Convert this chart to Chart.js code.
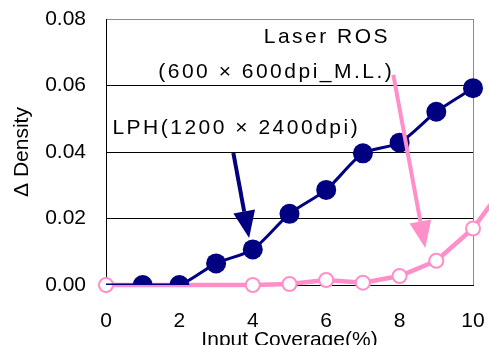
<!DOCTYPE html>
<html>
<head>
<meta charset="utf-8">
<script src="https://cdn.jsdelivr.net/npm/chart.js@4.4.0/dist/chart.umd.min.js"></script>
<style>
  html, body { margin: 0; padding: 0; background: #fff; }
  #wrap { width: 489px; height: 345px; }
</style>
</head>
<body>
<div id="wrap"><canvas id="myChart" width="489" height="345"></canvas></div>
<script>
// LPH(1200x2400dpi) series
const lphX = [0, 1, 2, 3, 4, 5, 6, 7, 8, 9, 10];
const lphY = [0, 0, 0, 0.0065, 0.0107, 0.0214, 0.0286, 0.0396, 0.0428, 0.0521, 0.0592];

// Laser ROS series (last point runs off the right edge)
const rosX = [0, 4, 5, 6, 7, 8, 9, 10, 11];
const rosY = [0, 0, 0.0003, 0.0015, 0.0007, 0.0027, 0.0073, 0.017, 0.032];

// annotation labels and arrows, in data units
const noteLabels = [
  { text: "Laser ROS", x: 6.02, y: 0.0746 },
  { text: "(600 × 600dpi_M.L.)", x: 4.64, y: 0.0641 },
  { text: "LPH(1200 × 2400dpi)", x: 3.55, y: 0.0472 }
];
const noteArrows = [
  { x0: 3.47, y0: 0.0397, x1: 3.90, y1: 0.0141, color: "#000080" },
  { x0: 7.83, y0: 0.0632, x1: 8.70, y1: 0.0111, color: "#ff8fc8" }
];

const FONT = '"Liberation Sans", Arial, sans-serif';
Chart.defaults.font.family = FONT;
Chart.defaults.color = "#000";

function drawArrow(ctx, sx, sy, ex, ey, color) {
  const ang = Math.atan2(ey - sy, ex - sx);
  const len = 27, half = 11;
  const bx = ex - Math.cos(ang) * len;
  const by = ey - Math.sin(ang) * len;
  ctx.strokeStyle = color;
  ctx.fillStyle = color;
  ctx.lineWidth = 4;
  ctx.beginPath();
  ctx.moveTo(sx, sy);
  ctx.lineTo(bx, by);
  ctx.stroke();
  ctx.beginPath();
  ctx.moveTo(ex, ey);
  ctx.lineTo(bx + Math.sin(ang) * half, by - Math.cos(ang) * half);
  ctx.lineTo(bx - Math.sin(ang) * half, by + Math.cos(ang) * half);
  ctx.closePath();
  ctx.fill();
}

const annotate = {
  id: "annotate",
  afterDatasetsDraw(chart) {
    const { ctx, scales: { x, y } } = chart;
    ctx.save();
    noteArrows.forEach((a) => {
      drawArrow(ctx, x.getPixelForValue(a.x0), y.getPixelForValue(a.y0),
        x.getPixelForValue(a.x1), y.getPixelForValue(a.y1), a.color);
    });
    ctx.font = "21px " + FONT;
    ctx.fillStyle = "#000";
    ctx.textAlign = "center";
    ctx.textBaseline = "middle";
    ctx.letterSpacing = "2.5px";
    noteLabels.forEach((l) => {
      ctx.fillText(l.text, x.getPixelForValue(l.x), y.getPixelForValue(l.y));
    });
    ctx.restore();
  }
};

const ctx = document.getElementById("myChart").getContext("2d");
new Chart(ctx, {
  type: "line",
  data: {
    datasets: [
      {
        label: "LPH",
        data: lphX.map((v, i) => ({ x: v, y: lphY[i] })),
        borderColor: "#000080",
        backgroundColor: "#000080",
        borderWidth: 3,
        pointRadius: (c) => (c.dataIndex === 0 ? 0 : 10),
        pointBorderWidth: 0,
        tension: 0.25
      },
      {
        label: "Laser ROS",
        data: rosX.map((v, i) => ({ x: v, y: rosY[i] })),
        borderColor: "#ff8fc8",
        borderWidth: 4.5,
        pointRadius: 7,
        pointBackgroundColor: "#fff",
        pointBorderColor: "#ff8fc8",
        pointBorderWidth: 2,
        tension: 0,
        clip: false
      }
    ]
  },
  options: {
    responsive: false,
    animation: false,
    layout: { padding: { left: 0, right: 16, top: 19, bottom: 0 } },
    plugins: { legend: { display: false }, tooltip: { enabled: false } },
    scales: {
      x: {
        type: "linear",
        ticks: { stepSize: 2, padding: 24, font: { size: 21 } },
        grid: {
          drawTicks: false,
          color: (c) => (c.tick && c.tick.value === 10 ? "#8c8c8c" : "rgba(0,0,0,0)")
        },
        border: { color: "#000", width: 1 },
        title: {
          display: true,
          text: "Input Coverage(%)",
          font: { size: 21 },
          padding: { top: 0, bottom: -8 }
        },
        // range 0..10 set here (not via min/max) so the off-range ROS point still draws
        afterDataLimits: (s) => {
          s.min = 0;
          s.max = 10;
        },
        afterFit: (s) => {
          s.height = 60;
          s.paddingLeft = 0;
          s.paddingRight = 0;
        }
      },
      y: {
        min: 0,
        max: 0.08,
        ticks: {
          stepSize: 0.02,
          padding: 20,
          font: { size: 21 },
          callback: (v) => v.toFixed(2)
        },
        grid: {
          drawTicks: false,
          color: (c) => (c.tick && c.tick.value > 0.079 ? "#8c8c8c" : "#000")
        },
        border: { color: "#000", width: 1 },
        title: {
          display: true,
          text: "Δ Density",
          font: { size: 21 },
          padding: { top: 10, bottom: 0 }
        },
        afterFit: (s) => {
          s.width = 106;
          s.paddingTop = 0;
          s.paddingBottom = 0;
        }
      }
    }
  },
  plugins: [annotate]
});
</script>
</body>
</html>
